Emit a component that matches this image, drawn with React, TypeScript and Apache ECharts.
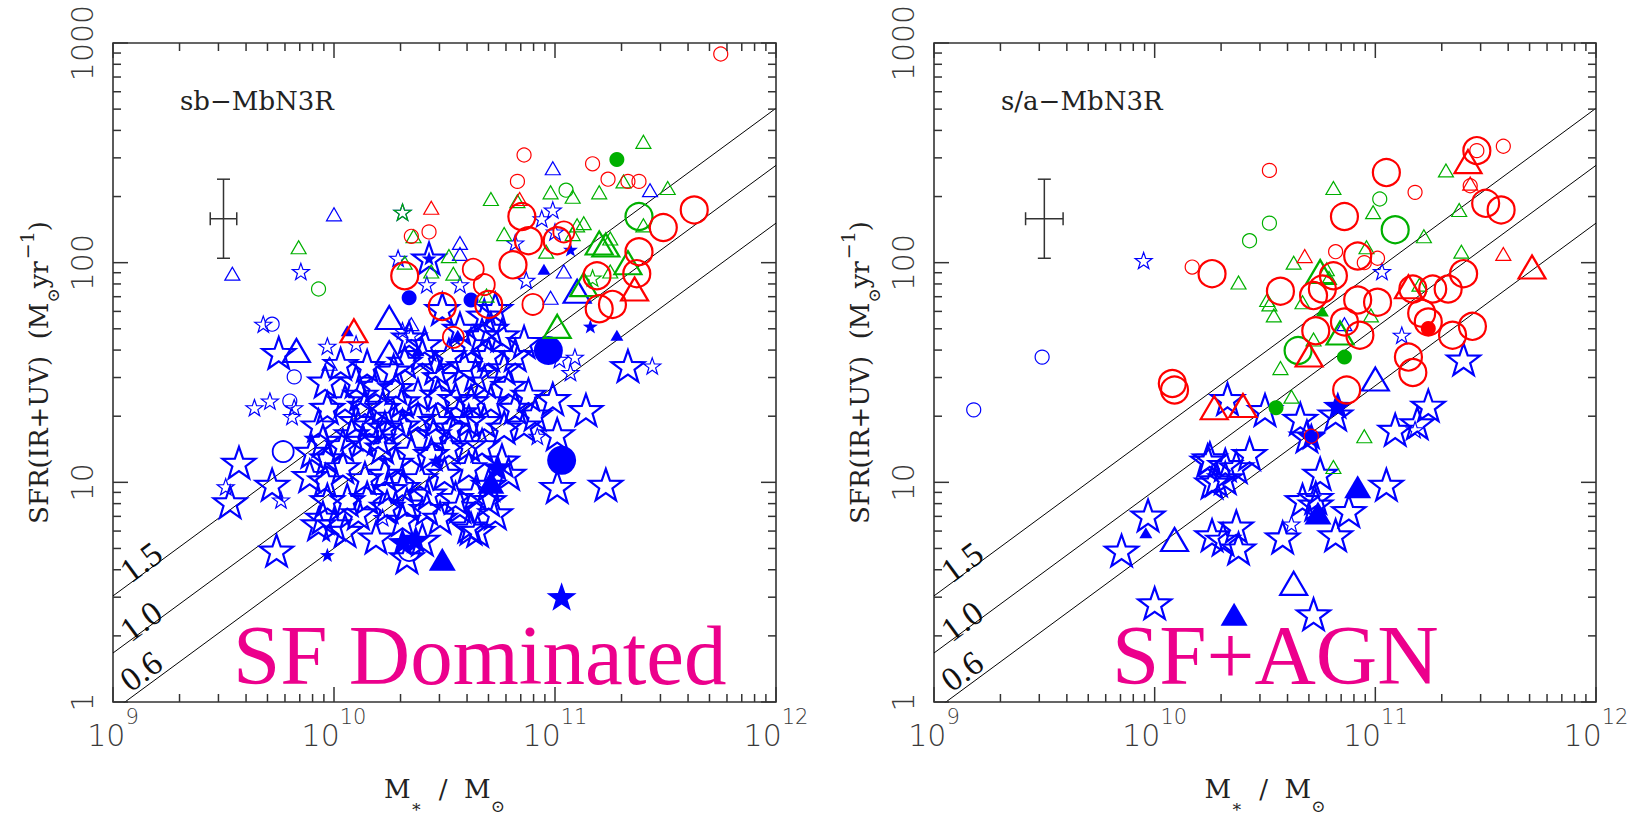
import React, { useEffect, useRef } from 'react';
import * as echarts from 'echarts';

// Every point: [log10(M* / Msun), log10(SFR / Msun yr^-1)]

// ---------- Panel 1 : sb-MbN3R (SF Dominated) ----------
const p1BlueStarBig = [
  [9.75,1.59],[9.57,1.09],[9.53,0.91],[9.72,0.99],[9.74,0.69],[10.43,2.02],[10.49,1.79],[11.33,1.53],[11.14,1.33],[11.01,0.98],[11.23,0.99],[10.62,0.79],[11.01,1.22],[10.57,0.89],[10.70,0.92],[10.65,0.78],
  [9.96,1.46],[9.97,1.34],[9.93,1.26],[9.95,1.19],[9.90,1.14],[9.97,1.11],[9.96,1.01],[9.97,0.92],[9.95,0.84],[10.00,0.81],
  [10.15,1.53],[10.10,1.46],[10.19,1.44],[10.27,1.51],[10.32,1.55],[10.40,1.58],[10.46,1.52],[10.52,1.58],[10.59,1.53],[10.64,1.49],
  [10.05,1.37],[10.14,1.35],[10.22,1.34],[10.31,1.37],[10.38,1.40],[10.47,1.40],[10.55,1.38],[10.62,1.37],
  [10.10,1.28],[10.16,1.26],[10.23,1.25],[10.31,1.26],[10.38,1.29],[10.46,1.28],[10.53,1.25],[10.61,1.28],
  [10.04,1.17],[10.13,1.19],[10.22,1.16],[10.35,1.14],[10.44,1.13],[10.52,1.16],[10.61,1.17],
  [10.04,1.07],[10.14,1.02],[10.23,1.04],[10.31,0.98],[10.50,1.04],[10.61,1.07],
  [10.06,0.92],[10.15,0.93],[10.24,0.89],[10.33,0.90],[10.43,0.95],[10.55,0.93],[10.64,0.95],
  [10.05,0.78],[10.31,0.83],[10.61,0.80],[10.40,0.74],[10.33,0.66],
  [10.68,1.76],[10.73,1.79],[10.67,1.67],[10.76,1.67],[10.86,1.64],[10.82,1.58],[10.70,1.58],[10.77,1.52],[10.68,1.46],[10.79,1.44],[10.88,1.40],[10.99,1.38],[10.71,1.37],[10.82,1.34],[10.91,1.31],[10.68,1.28],[10.77,1.25],[10.86,1.26],[10.67,1.17],[10.76,1.10],[10.79,1.04],[10.70,0.99],[10.73,0.86],
  [10.34,1.66],[10.41,1.63],[10.62,1.63],[10.71,1.70],[10.57,1.70],[10.03,1.54],
  [9.89,1.03],[9.93,0.81],[10.28,1.09],[10.39,1.02],[10.11,0.86],[10.48,0.84],[10.19,0.75],[10.48,1.48],[10.28,1.43],
  [10.20,1.20],[10.08,1.22],[10.27,1.30],[10.45,1.22],[10.57,1.32],[10.25,0.97],[10.42,0.88],[10.12,1.40]
];
const p1BlueStarSmall = [
  [9.85,1.96],[9.68,1.72],[10.10,1.63],[9.97,1.62],[9.64,1.34],[9.71,1.37],[9.82,1.34],[9.81,1.30],[9.51,0.98],[9.76,0.92],[10.29,2.02],[10.31,2.23],[10.42,1.90],[10.57,1.90],[10.82,2.09],[10.94,2.20],[10.99,2.24],[11.00,2.14],[10.87,1.92],[11.02,1.56],[11.09,1.57],[11.07,1.50],[11.44,1.53],[10.92,1.21],[10.31,1.69],[10.35,1.67],[10.22,0.84]
];
const p1BlueStarFilledSmall = [[10.43,2.02],[11.07,2.06],[11.16,1.71],[9.97,0.67],[10.46,1.10]];
const p1BlueStarFilledBig = [[11.03,0.48],[10.74,1.07],[10.37,0.74],[10.31,0.73]];
const p1BlueTriBig = [[9.83,1.60],[10.25,1.75],[10.25,1.59],[11.10,1.87]];
const p1BlueTriSmall = [[9.54,1.95],[10.00,2.22],[9.98,1.54],[10.35,1.72],[10.57,2.09],[10.57,2.04],[11.04,1.96],[10.99,2.43],[11.43,2.33],[10.98,1.84]];
const p1BlueTriFilledSmall = [[10.06,1.69],[10.56,1.67],[10.95,1.97],[11.28,1.67],[10.38,1.60]];
const p1BlueTriFilledBig = [[10.49,0.65],[10.71,1.00]];
const p1BlueCircSmall = [[9.72,1.72],[9.82,1.48],[9.80,1.37]];
const p1BlueCircBig = [[9.77,1.14],[10.34,0.69]];
const p1BlueCircFilledSmall = [[10.34,1.84],[10.62,1.83]];
const p1BlueCircFilledBig = [[10.97,1.60],[11.03,1.10]];
const p1RedCircSmall = [[10.35,2.12],[10.43,2.14],[10.83,2.37],[10.86,2.49],[11.17,2.45],[11.24,2.38],[11.33,2.37],[11.38,2.37],[11.75,2.95]];
const p1RedCircMid = [[10.63,1.97],[10.68,1.90],[11.04,2.14],[10.90,1.81],[10.54,1.66]];
const p1RedCircBig = [[10.32,1.94],[10.49,1.80],[10.70,1.81],[10.81,1.99],[10.85,2.21],[10.88,2.10],[11.01,2.10],[11.19,1.94],[11.20,1.79],[11.26,1.81],[11.37,1.95],[11.38,2.05],[11.49,2.16],[11.63,2.24]];
const p1RedTriSmall = [[10.44,2.25],[10.84,2.29]];
const p1RedTriBig = [[11.36,1.88],[10.09,1.69]];
const p1GreenTriSmall = [
  [9.84,2.07],[10.36,2.12],[10.32,2.00],[10.44,1.96],[10.54,1.95],[10.52,2.03],[10.71,2.29],[10.77,2.13],[10.83,2.28],[10.98,2.32],[11.08,2.30],[11.20,2.32],[10.96,2.05],[11.08,2.13],[11.10,2.17],[11.13,2.18],[11.25,2.11],[11.25,1.96],[11.31,2.37],[11.40,2.55],[11.51,2.34],[11.40,2.17],[10.69,1.85]
];
const p1GreenTriBig = [[11.01,1.71],[11.20,2.09],[11.23,2.08],[11.13,1.90],[11.33,2.00]];
const p1GreenCircSmall = [[9.93,1.88],[11.05,2.33]];
const p1GreenCircBig = [[11.38,2.21]];
const p1GreenCircFilled = [[11.28,2.47]];
const p1GreenStarSmall = [[10.31,2.23],[11.17,1.93]];

// ---------- Panel 2 : s/a-MbN3R (SF+AGN) ----------
const p2BlueStarBig = [
  [10.33,1.38],[10.50,1.33],[10.66,1.29],[10.69,1.21],[10.82,1.31],[11.24,1.35],[11.40,1.56],[11.09,1.24],[11.19,1.27],[10.43,1.13],[10.32,1.08],[10.32,1.02],[10.25,1.11],[10.28,1.01],[10.37,1.07],[10.75,1.04],[11.05,0.99],[10.67,0.92],[10.73,0.93],[10.88,0.87],[10.82,0.76],[10.58,0.75],[10.37,0.80],[10.38,0.70],[10.26,0.76],[10.31,0.74],[10.73,0.90],[9.97,0.85],[9.85,0.69],[10.00,0.45],[10.24,1.10],[10.26,1.00],[10.72,0.40]
];
const p2BlueStarSmall = [[9.95,2.01],[11.03,1.96],[11.12,1.67],[10.62,0.81],[11.18,1.24]];
const p2BlueStarFilledBig = [[10.83,1.35],[10.71,1.21]];
const p2BlueTriFilledSmall = [[9.96,0.77]];
const p2BlueTriFilledBig = [[10.92,0.98],[10.74,0.86],[10.36,0.40]];
const p2BlueTriBig = [[11.00,1.47],[10.09,0.74],[10.63,0.54]];
const p2BlueTriSmall = [[10.86,1.72]];
const p2BlueCircSmall = [[9.49,1.57],[9.18,1.33]];
const p2RedCircSmall = [[10.17,1.98],[10.52,2.42],[11.46,2.51],[11.58,2.53],[11.43,2.35],[11.18,2.32],[10.82,2.05],[10.95,2.00],[11.01,2.02],[10.71,1.21]];
const p2RedCircBig = [
  [10.26,1.95],[10.08,1.45],[10.09,1.42],[11.05,2.41],[11.46,2.51],[10.86,2.21],[11.50,2.27],[11.57,2.24],[10.92,2.03],[10.81,1.94],[10.57,1.87],[10.76,1.88],[10.72,1.85],[10.92,1.83],[11.01,1.82],[11.17,1.88],[11.26,1.88],[11.33,1.88],[11.40,1.95],[11.21,1.77],[11.24,1.73],[10.73,1.69],[10.86,1.73],[10.93,1.67],[11.35,1.67],[11.44,1.71],[11.15,1.57],[11.17,1.50],[10.87,1.42]
];
const p2RedCircFilled = [[11.24,1.70]];
const p2RedTriSmall = [[10.68,2.03],[11.58,2.04],[11.43,2.36]];
const p2RedTriBig = [[11.42,2.46],[11.71,1.98],[11.15,1.89],[10.70,1.58],[10.40,1.35],[10.27,1.34]];
const p2GreenTriSmall = [
  [10.81,2.34],[11.32,2.42],[10.99,2.23],[11.38,2.24],[11.22,2.12],[10.96,2.07],[10.63,2.00],[11.39,2.05],[10.38,1.91],[10.78,1.97],[10.79,1.93],[10.51,1.83],[10.52,1.81],[10.54,1.76],[10.67,1.82],[11.20,1.90],[10.98,1.76],[10.72,1.65],[10.57,1.52],[10.62,1.39],[10.95,1.21],[10.81,1.07]
];
const p2GreenTriBig = [[10.75,1.96],[10.84,1.68]];
const p2GreenTriFilledSmall = [[10.76,1.78]];
const p2GreenCircSmall = [[11.02,2.29],[10.52,2.18],[10.43,2.10]];
const p2GreenCircBig = [[11.09,2.15],[10.65,1.60]];
const p2GreenCircFilled = [[10.86,1.57],[10.55,1.34]];

// Reference lines (labels 1.5, 1.0, 0.6): end points [log M, log SFR]
const refLines = [
  { label: '1.5', pts: [[9, 0.483], [12, 2.703]] },
  { label: '1.0', pts: [[9, 0.223], [12, 2.443]] },
  { label: '0.6', pts: [[9, -0.04], [12, 2.18]] },
];

// Typical error bar: [logM, logSFR, logM lo, logM hi, logSFR lo, logSFR hi]
const p1ErrBar = [9.50, 2.20, 9.44, 9.56, 2.02, 2.38];
const p2ErrBar = [9.50, 2.20, 9.415, 9.585, 2.02, 2.38];

// Axes
const xMajorTicks = [1e9, 1e10, 1e11, 1e12];
const yMajorTicks = [1, 10, 100, 1000];
const minorMultipliers = [2, 3, 4, 5, 6, 7, 8, 9];
const panelTags = ['sb\u2212MbN3R', 's/a\u2212MbN3R'];
const panelTitles = ['SF Dominated', 'SF+AGN'];

const BLUE = '#0000ff';
const RED = '#ff0000';
const GREEN = '#00b000';
const PINK = '#ec008c';
const AXIS = '#333333';

const STAR = 'path://M50 0 L61.76 33.82 L97.55 34.55 L69.02 56.18 L79.39 90.45 L50 70 L20.61 90.45 L30.98 56.18 L2.45 34.55 L38.24 33.82 Z';

const GRID_LEFT = [113, 934];
const GRID_TOP = 43;
const GRID_W = [663, 662];
const GRID_H = 663;

function toXY(p: number[][]) {
  return p.map(([a, b]) => [Math.pow(10, a), Math.pow(10, b)]);
}

type Spec = [number[][], string, any, string, boolean, number];

function scatter(panel: number, s: Spec) {
  const [data, symbol, size, color, filled, lw] = s;
  return {
    type: 'scatter',
    xAxisIndex: panel,
    yAxisIndex: panel,
    data: toXY(data),
    symbol,
    symbolSize: size,
    symbolKeepAspect: true,
    silent: true,
    itemStyle: filled
      ? { color, borderWidth: 0, opacity: 1 }
      : { color: 'rgba(0,0,0,0)', borderColor: color, borderWidth: lw, opacity: 1 },
    emphasis: { disabled: true },
    z: 3,
  };
}

const SZ = {
  starBig: 33, starSmall: 17, starFSmall: 15, starFBig: 30,
  triBig: [27, 23], triSmall: [15, 13], triFSmall: [13, 11], triFBig: [27, 23],
  circSmall: 14, circMid: 21, circBig: 27, circFSmall: 15, circFBig: 29,
};

const p1Specs: Spec[] = [
  [p1BlueStarBig, STAR, SZ.starBig, BLUE, false, 2.2],
  [p1BlueStarSmall, STAR, SZ.starSmall, BLUE, false, 1.2],
  [p1BlueStarFilledSmall, STAR, SZ.starFSmall, BLUE, true, 0],
  [p1BlueStarFilledBig, STAR, SZ.starFBig, BLUE, true, 0],
  [p1BlueTriBig, 'triangle', SZ.triBig, BLUE, false, 2.2],
  [p1BlueTriSmall, 'triangle', SZ.triSmall, BLUE, false, 1.2],
  [p1BlueTriFilledSmall, 'triangle', SZ.triFSmall, BLUE, true, 0],
  [p1BlueTriFilledBig, 'triangle', SZ.triFBig, BLUE, true, 0],
  [p1BlueCircSmall, 'circle', SZ.circSmall, BLUE, false, 1.2],
  [p1BlueCircBig, 'circle', SZ.circMid, BLUE, false, 1.8],
  [p1BlueCircFilledSmall, 'circle', SZ.circFSmall, BLUE, true, 0],
  [p1BlueCircFilledBig, 'circle', SZ.circFBig, BLUE, true, 0],
  [p1GreenTriSmall, 'triangle', SZ.triSmall, GREEN, false, 1.2],
  [p1GreenTriBig, 'triangle', SZ.triBig, GREEN, false, 2.2],
  [p1GreenCircSmall, 'circle', SZ.circSmall, GREEN, false, 1.2],
  [p1GreenCircBig, 'circle', SZ.circBig, GREEN, false, 2.2],
  [p1GreenCircFilled, 'circle', SZ.circFSmall, GREEN, true, 0],
  [p1GreenStarSmall, STAR, SZ.starSmall, GREEN, false, 1.2],
  [p1RedCircSmall, 'circle', SZ.circSmall, RED, false, 1.2],
  [p1RedCircMid, 'circle', SZ.circMid, RED, false, 1.8],
  [p1RedCircBig, 'circle', SZ.circBig, RED, false, 2.2],
  [p1RedTriSmall, 'triangle', SZ.triSmall, RED, false, 1.2],
  [p1RedTriBig, 'triangle', SZ.triBig, RED, false, 2.2],
];

const p2Specs: Spec[] = [
  [p2BlueStarBig, STAR, SZ.starBig, BLUE, false, 2.2],
  [p2BlueStarSmall, STAR, SZ.starSmall, BLUE, false, 1.2],
  [p2BlueStarFilledBig, STAR, SZ.starFBig, BLUE, true, 0],
  [p2BlueTriBig, 'triangle', SZ.triBig, BLUE, false, 2.2],
  [p2BlueTriSmall, 'triangle', SZ.triSmall, BLUE, false, 1.2],
  [p2BlueTriFilledSmall, 'triangle', SZ.triFSmall, BLUE, true, 0],
  [p2BlueTriFilledBig, 'triangle', SZ.triFBig, BLUE, true, 0],
  [p2BlueCircSmall, 'circle', SZ.circSmall, BLUE, false, 1.2],
  [p2GreenTriSmall, 'triangle', SZ.triSmall, GREEN, false, 1.2],
  [p2GreenTriBig, 'triangle', SZ.triBig, GREEN, false, 2.2],
  [p2GreenTriFilledSmall, 'triangle', SZ.triFSmall, GREEN, true, 0],
  [p2GreenCircSmall, 'circle', SZ.circSmall, GREEN, false, 1.2],
  [p2GreenCircBig, 'circle', SZ.circBig, GREEN, false, 2.2],
  [p2GreenCircFilled, 'circle', SZ.circFSmall, GREEN, true, 0],
  [p2RedCircSmall, 'circle', SZ.circSmall, RED, false, 1.2],
  [p2RedCircBig, 'circle', SZ.circBig, RED, false, 2.2],
  [p2RedCircFilled, 'circle', SZ.circFSmall, RED, true, 0],
  [p2RedTriSmall, 'triangle', SZ.triSmall, RED, false, 1.2],
  [p2RedTriBig, 'triangle', SZ.triBig, RED, false, 2.2],
];

function tickList(majors: number[]) {
  const out: number[][] = [];
  majors.forEach((m, i) => {
    out.push([m, 1]);
    if (i < majors.length - 1) minorMultipliers.forEach((k) => out.push([m * k, 0]));
  });
  return out;
}

function xTickSeries(panel: number) {
  return {
    type: 'custom', xAxisIndex: panel, yAxisIndex: panel, silent: true, clip: false, z: 5,
    data: tickList(xMajorTicks).map(([v, major]) => [v, 10, major]),
    encode: { x: 0, y: 1 },
    renderItem: (params: any, api: any) => {
      const cs = params.coordSys;
      const px = api.coord([api.value(0), 10])[0];
      const len = api.value(2) ? 15 : 8;
      const st = { stroke: AXIS, lineWidth: 1.5 };
      return {
        type: 'group',
        children: [
          { type: 'line', shape: { x1: px, y1: cs.y + cs.height, x2: px, y2: cs.y + cs.height - len }, style: st },
          { type: 'line', shape: { x1: px, y1: cs.y, x2: px, y2: cs.y + len }, style: st },
        ],
      };
    },
  };
}

function yTickSeries(panel: number) {
  return {
    type: 'custom', xAxisIndex: panel, yAxisIndex: panel, silent: true, clip: false, z: 5,
    data: tickList(yMajorTicks).map(([v, major]) => [1e10, v, major]),
    encode: { x: 0, y: 1 },
    renderItem: (params: any, api: any) => {
      const cs = params.coordSys;
      const py = api.coord([1e10, api.value(1)])[1];
      const len = api.value(2) ? 15 : 8;
      const st = { stroke: AXIS, lineWidth: 1.5 };
      return {
        type: 'group',
        children: [
          { type: 'line', shape: { x1: cs.x, y1: py, x2: cs.x + len, y2: py }, style: st },
          { type: 'line', shape: { x1: cs.x + cs.width, y1: py, x2: cs.x + cs.width - len, y2: py }, style: st },
        ],
      };
    },
  };
}

function errBarSeries(panel: number, e: number[]) {
  return {
    type: 'custom', xAxisIndex: panel, yAxisIndex: panel, silent: true, z: 4,
    data: [e.map((v) => Math.pow(10, v))],
    encode: { x: 0, y: 1 },
    renderItem: (params: any, api: any) => {
      const xc = api.value(0), yc = api.value(1);
      const l = api.coord([api.value(2), yc]);
      const r = api.coord([api.value(3), yc]);
      const b = api.coord([xc, api.value(4)]);
      const t = api.coord([xc, api.value(5)]);
      const h = 6.5;
      const st = { stroke: '#333', lineWidth: 1.5 };
      const ln = (x1: number, y1: number, x2: number, y2: number) => ({ type: 'line', shape: { x1, y1, x2, y2 }, style: st });
      return {
        type: 'group',
        children: [
          ln(l[0], l[1], r[0], r[1]),
          ln(l[0], l[1] - h, l[0], l[1] + h),
          ln(r[0], r[1] - h, r[0], r[1] + h),
          ln(t[0], t[1], b[0], b[1]),
          ln(t[0] - h, t[1], t[0] + h, t[1]),
          ln(b[0] - h, b[1], b[0] + h, b[1]),
        ],
      };
    },
  };
}

function lineSeries(panel: number) {
  return refLines.map((ln) => ({
    type: 'line', xAxisIndex: panel, yAxisIndex: panel, silent: true, z: 2,
    data: toXY(ln.pts), symbol: 'none', showSymbol: false, clip: true,
    lineStyle: { color: '#000', width: 1 },
  }));
}

const tickFont = { fontFamily: 'DejaVu Sans', fontWeight: 200 as any, color: '#3a3a3a' };

function makeXAxis(panel: number) {
  return {
    type: 'log', logBase: 10, gridIndex: panel, min: 1e9, max: 1e12,
    axisLine: { show: false }, axisTick: { show: false }, splitLine: { show: false },
    axisLabel: {
      margin: 4,
      formatter: (v: number) => `{b|10}{s|${Math.round(Math.log10(v))}}`,
      rich: {
        b: { ...tickFont, fontSize: 30, lineHeight: 44, verticalAlign: 'bottom' },
        s: { ...tickFont, fontSize: 21, lineHeight: 21, verticalAlign: 'top' },
      },
    },
    name: '{a|M}{u|\u2217}{a|  /  M}{u|\u2299}',
    nameLocation: 'middle',
    nameGap: 74,
    nameTextStyle: {
      rich: {
        a: { fontFamily: 'DejaVu Serif', fontSize: 26, color: '#222', lineHeight: 30, verticalAlign: 'top' },
        u: { fontFamily: 'DejaVu Serif', fontSize: 17, color: '#222', lineHeight: 17, verticalAlign: 'bottom', padding: [0, 0, -8, 0] },
      },
    },
  };
}

function makeYAxis(panel: number) {
  return {
    type: 'log', logBase: 10, gridIndex: panel, min: 1, max: 1000,
    axisLine: { show: false }, axisTick: { show: false }, splitLine: { show: false },
    axisLabel: {
      rotate: 90, margin: 16, ...tickFont, fontSize: 30,
      formatter: (v: number) => String(Math.round(v)),
    },
    name: '{a|SFR(IR+UV)  (M}{u|\u2299}{a|yr}{p|\u22121}{a|)}',
    nameLocation: 'middle',
    nameRotate: 90,
    nameGap: 58,
    nameTextStyle: {
      rich: {
        a: { fontFamily: 'DejaVu Serif', fontSize: 26, color: '#222', lineHeight: 32 },
        u: { fontFamily: 'DejaVu Serif', fontSize: 17, color: '#222', lineHeight: 17, verticalAlign: 'bottom', padding: [0, 0, -6, 0] },
        p: { fontFamily: 'DejaVu Serif', fontSize: 19, color: '#222', lineHeight: 19, verticalAlign: 'top', padding: [-6, 0, 0, 2] },
      },
    },
  };
}

function buildOption() {
  const graphic: any[] = [];
  [0, 1].forEach((p) => {
    const gx = GRID_LEFT[p];
    graphic.push({
      type: 'text', x: gx + 67, y: 101, silent: true,
      style: { text: panelTags[p], fontFamily: 'DejaVu Serif', fontSize: 26, fill: '#222', align: 'left', verticalAlign: 'middle' },
    });
    graphic.push({
      type: 'text', x: p === 0 ? 233 : 1112, y: 655, silent: true,
      style: { text: panelTitles[p], fontFamily: 'Liberation Serif', fontSize: 85, fill: PINK, align: 'left', verticalAlign: 'middle' },
    });
    const ly = [562, 621, 671];
    refLines.forEach((ln, i) => {
      graphic.push({
        type: 'text', x: gx + 28, y: ly[i], rotation: 0.637, silent: true,
        style: { text: ln.label, fontFamily: 'Liberation Serif', fontSize: 34, fill: '#111', align: 'center', verticalAlign: 'middle' },
      });
    });
  });

  const series: any[] = [];
  [0, 1].forEach((p) => {
    series.push(...lineSeries(p));
    series.push(xTickSeries(p), yTickSeries(p));
    series.push(errBarSeries(p, p === 0 ? p1ErrBar : p2ErrBar));
    (p === 0 ? p1Specs : p2Specs).forEach((s) => series.push(scatter(p, s)));
  });

  return {
    animation: false,
    backgroundColor: '#ffffff',
    grid: [0, 1].map((p) => ({
      left: GRID_LEFT[p], top: GRID_TOP, width: GRID_W[p], height: GRID_H,
      show: true, borderColor: AXIS, borderWidth: 1.6, backgroundColor: 'transparent',
    })),
    xAxis: [makeXAxis(0), makeXAxis(1)],
    yAxis: [makeYAxis(0), makeYAxis(1)],
    series,
    graphic,
  };
}

export default function App() {
  const ref = useRef<HTMLDivElement>(null);
  useEffect(() => {
    const chart = echarts.init(ref.current as HTMLDivElement, null, { renderer: 'svg' });
    chart.setOption(buildOption() as any);
    return () => chart.dispose();
  }, []);
  return (
    <div
      ref={ref}
      style={{ position: 'fixed', left: 0, top: 0, width: 1636, height: 819, background: '#fff' }}
    />
  );
}
